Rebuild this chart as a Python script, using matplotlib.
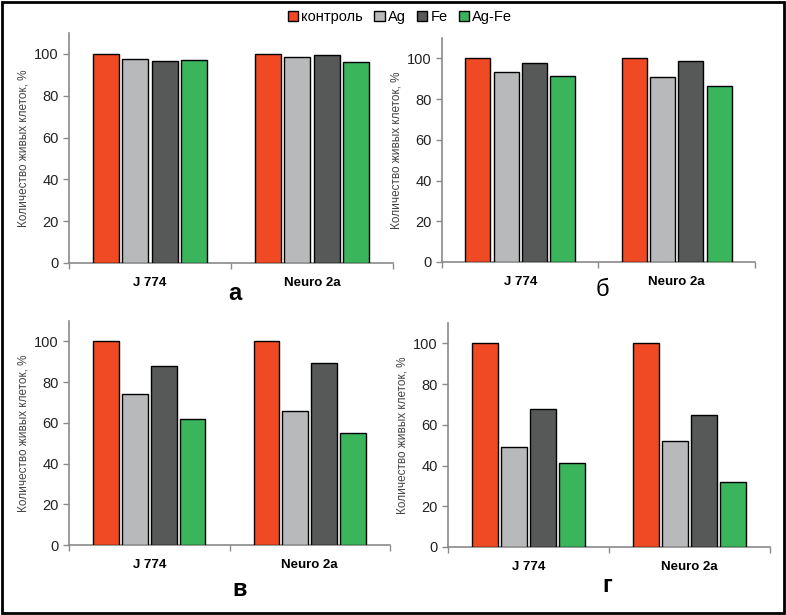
import matplotlib
matplotlib.use("Agg")
import matplotlib.pyplot as plt
import numpy as np
from matplotlib.patches import Rectangle

categories = ["J 774", "Neuro 2a"]
series = ["контроль", "Ag", "Fe", "Ag-Fe"]
colors = ["#EF4A23", "#B7B9BA", "#575959", "#3AB55B"]

panel_a = {"контроль": [100, 100], "Ag": [97.6, 98.3], "Fe": [96.7, 99.7], "Ag-Fe": [97.0, 96.2]}
panel_b = {"контроль": [100, 100], "Ag": [93.2, 90.9], "Fe": [97.7, 98.9], "Ag-Fe": [91.2, 86.6]}
panel_v = {"контроль": [100, 100], "Ag": [74.0, 66.0], "Fe": [88.1, 89.2], "Ag-Fe": [61.8, 55.1]}
panel_g = {"контроль": [100, 100], "Ag": [48.9, 52.1], "Fe": [68.0, 65.0], "Ag-Fe": [41.0, 32.0]}
panel_letters = ["а", "б", "в", "г"]

fig = plt.figure(figsize=(7.86, 6.15), dpi=100)
plt.rcParams['font.family'] = ['Liberation Sans', 'DejaVu Sans']

# outer frame
fig.patches.append(Rectangle((0.002, 0.003), 0.996, 0.994, transform=fig.transFigure,
                             fill=False, edgecolor="black", linewidth=2))

positions = [
    [0.0878, 0.5724, 0.5 - 0.0878, 0.9463 - 0.5724],
    [0.5623, 0.574, 0.9606 - 0.5623, 0.938 - 0.574],
    [0.0878, 0.1138, 0.4962 - 0.0878, 0.478 - 0.1138],
    [0.570, 0.1106, 0.9796 - 0.570, 0.4748 - 0.1106],
]
letter_pos = [(235, 293, 'bold'), (602, 290, 'normal'), (240, 590, 'bold'), (607, 585, 'bold')]
panels = [panel_a, panel_b, panel_v, panel_g]

x = np.arange(len(categories))
spine_col = "#8a8a8a"
for k, (data, pos) in enumerate(zip(panels, positions)):
    ax = fig.add_axes(pos)
    for i, s in enumerate(series):
        ax.bar(x + (i - 1.5) * 0.18, data[s], width=0.16, color=colors[i],
               edgecolor="black", linewidth=1.0, label=s, zorder=3)
    ax.set_xlim(-0.5, 1.5)
    ax.set_ylim(0, 110)
    ax.set_yticks([0, 20, 40, 60, 80, 100])
    ax.tick_params(axis='y', labelsize=10.5, colors=spine_col, labelcolor="#222222", length=4, width=1)
    ax.set_xticks(x)
    ax.set_xticklabels(categories, fontsize=9.5, fontweight='bold')
    ax.tick_params(axis='x', which='major', length=0, pad=10)
    ax.set_xticks([-0.5, 0.5, 1.5], minor=True)
    ax.tick_params(axis='x', which='minor', length=4, colors=spine_col, width=1)
    for sp in ['top', 'right']:
        ax.spines[sp].set_visible(False)
    for sp in ['left', 'bottom']:
        ax.spines[sp].set_color(spine_col)
        ax.spines[sp].set_linewidth(1.2)
    ax.set_ylabel("Количество живых клеток, %", fontsize=8.5, color="#444444", labelpad=3)
    lx, ly, w = letter_pos[k]
    fig.text(lx / 786, 1 - ly / 615, panel_letters[k], fontsize=17, fontweight=w,
             ha='center', va='center')

handles = [Rectangle((0, 0), 1, 1, facecolor=c, edgecolor="black", linewidth=1) for c in colors]
fig.legend(handles, series, loc='center', bbox_to_anchor=(400 / 786, 1 - 17 / 615), ncol=4,
           frameon=False, fontsize=10.5, handlelength=0.7, handleheight=0.7,
           handletextpad=0.2, columnspacing=0.8)

fig.savefig("out.png", dpi=100)
